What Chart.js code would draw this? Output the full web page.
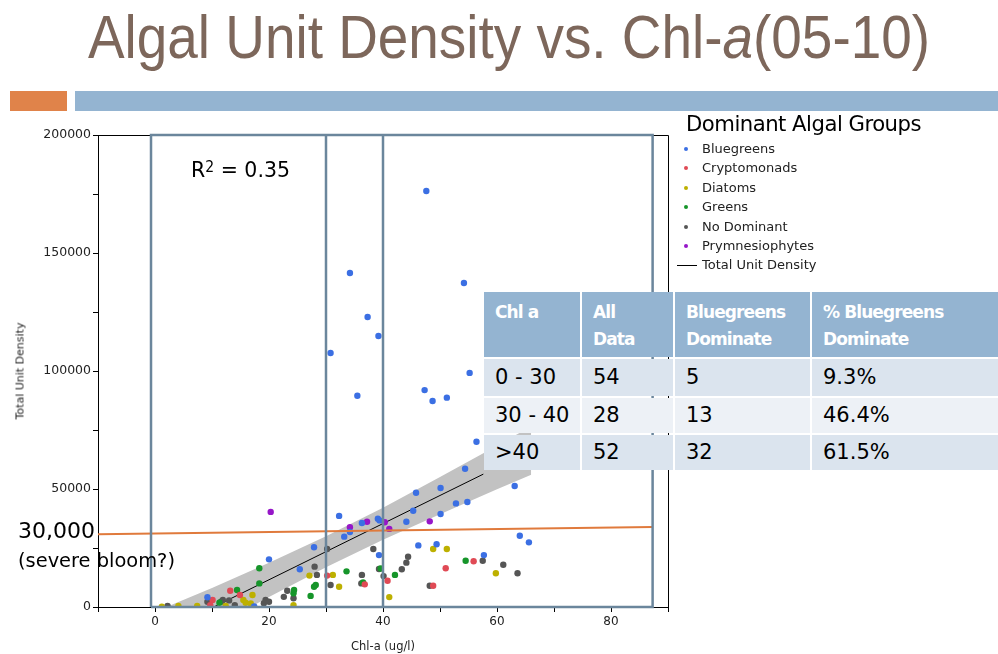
<!DOCTYPE html>
<html><head><meta charset="utf-8">
<script src="https://cdn.jsdelivr.net/npm/chart.js@4"></script>
<style>
html,body{margin:0;padding:0;background:#fff;}
body{width:998px;height:654px;position:relative;overflow:hidden;font-family:"DejaVu Sans",sans-serif;}
#wrap{position:absolute;left:0;top:0;width:998px;height:654px;}
.abs{position:absolute;white-space:nowrap;transform-origin:0 0;display:inline-block;}
#title{left:88px;top:6px;font-family:"Liberation Sans Narrow","Liberation Sans",sans-serif;font-size:62px;line-height:62px;color:#7d675b;}
#title i{font-style:italic;}
.bar{position:absolute;}
#legTitle{left:686px;top:111px;font-size:21px;line-height:26px;color:#000;letter-spacing:-0.5px;}
.legItem{position:absolute;left:702px;font-size:13px;line-height:16px;color:#222;white-space:nowrap;}
.legDot{position:absolute;width:4px;height:4px;border-radius:2px;}
#r2{left:191px;top:156px;font-size:22px;line-height:28px;color:#000;}
#r2 sup{font-size:15px;vertical-align:top;position:relative;top:-3px;}
#t30{left:18px;top:517px;font-size:22px;line-height:28px;color:#000;}
#bloom{left:18px;top:547px;font-size:20px;line-height:26px;color:#000;}
#ytitle{position:absolute;left:20px;top:371px;font-size:11px;color:#222;white-space:nowrap;transform:translate(-50%,-50%) rotate(-90deg);}
.cell{position:absolute;box-sizing:border-box;padding-left:11px;white-space:nowrap;}
.hdr{background:#94b4d1;color:#fff;font-weight:bold;font-size:17px;line-height:27px;padding-top:7px;letter-spacing:-0.9px;}
.dat{color:#000;font-size:21px;}
</style></head>
<body>
<div id="wrap"><canvas id="c" width="998" height="654"></canvas></div>
<div id="title" class="abs">Algal Unit Density vs. Chl-<i>a</i>(05-10)</div>
<div class="bar" style="left:10px;top:91px;width:57px;height:20px;background:#e0834a;"></div>
<div class="bar" style="left:75px;top:91px;width:923px;height:20px;background:#94b4d1;"></div>
<div id="legTitle" class="abs">Dominant Algal Groups</div>
<div id="legend"></div>
<div id="r2" class="abs">R<sup>2</sup> = 0.35</div>
<div id="t30" class="abs">30,000</div>
<div id="bloom" class="abs">(severe bloom?)</div>
<div id="ytitle">Total Unit Density</div>
<div id="table"></div>
<script>
// ---- data ----
const groupNames = ['Bluegreens','Cryptomonads','Diatoms','Greens','No Dominant','Prymnesiophytes'];
const groupColors = ['#3b6fe3','#e04a55','#bdb000','#16952a','#555555','#9616c8'];

const bluegreensChl = [9.2,17.4,20.0,25.4,27.9,30.8,34.2,37.3,39.2,35.5,32.3,33.2,34.2,36.3,39.1,39.4,39.3,47.6,54.2,55.2,47.3,48.7,51.2,56.4,54.4,63.1,45.8,50.1,52.8,54.8,45.3,50.1,44.1,64.0,65.6,46.2,49.4,57.7];
const bluegreensDensity = [4100,200,20200,16000,25300,107600,141500,122900,114800,89500,38600,29800,31800,35600,37400,36700,22000,176300,137300,99200,91900,87300,88700,70000,58600,51300,48400,50400,43900,44500,40800,39400,36100,30200,27400,26100,26600,22000];

const cryptoChl = [9.7,10.1,13.2,14.9,30.2,36.8,40.8,48.8,51.0,55.9];
const cryptoDensity = [800,3000,6900,5100,13300,9600,11100,9000,16400,19400];

const diatomsChl = [1.2,4.1,7.4,12.4,15.5,15.9,16.8,17.1,24.3,27.1,31.2,32.3,41.1,48.8,51.2,59.8];
const diatomsDensity = [100,400,400,400,3000,1800,1500,5100,800,13300,13600,8600,4200,24600,24600,14300];

const greensChl = [11.3,14.4,18.3,18.3,24.3,24.4,27.3,27.9,28.2,33.6,36.5,39.6,42.1,54.5];
const greensDensity = [1800,7200,16400,10000,5800,7200,4700,8600,9300,15100,10400,16300,13600,19600];

const noDomChl = [2.2,9.2,11.6,11.9,13.0,14.0,19.1,19.4,20.0,22.6,23.2,24.3,28.0,28.4,30.2,30.8,36.2,36.3,38.3,39.3,40.1,43.3,44.1,44.4,48.2,57.5,61.1,63.6];
const noDomDensity = [400,2200,2200,3000,2800,800,1600,3000,2200,4300,6900,3700,17100,13600,24600,9300,10000,13600,24600,16100,13100,16000,18800,21300,9000,19600,17900,14300];

const prymChl = [20.3,34.2,37.2,40.3,41.1,48.2];
const prymDensity = [40300,33800,36100,35900,33100,36300];

// regression line and confidence band
const fitChl = [10.3, 57.6];
const fitDensity = [0, 56300];
const bandChl = [0,10,20,30,40,50,60,66];
const bandUpper = [-2000,8000,18800,30000,42100,55100,68300,76600];
const bandLower = [-22600,-8800,4200,16800,28500,39300,49900,56000];

// threshold line (30,000 severe bloom)
const threshChl = [-10, 87.3];
const threshDensity = [30800, 33900];

// box outlines (Chl-a class boundaries)
const boxEdges = [-0.7, 30, 40, 87.3];

// axes
const xMin = -10, xMax = 90, xStep = 10, xLabelEvery = 20;
const yMin = 0, yMax = 200000, yStep = 25000, yLabelEvery = 50000;

// table
const tableHeader = [['Chl a',''],['All','Data'],['Bluegreens','Dominate'],['% Bluegreens','Dominate']];
const tableRanges = ['0 - 30','30 - 40','>40'];
const tableAll = [54,28,52];
const tableBlue = [5,13,32];
const tablePct = ['9.3%','46.4%','61.5%'];

// ---- build ----
const pts = (xs, ys) => xs.map((x,i)=>({x:x, y:ys[i]}));
const groups = [
  [bluegreensChl,bluegreensDensity],[cryptoChl,cryptoDensity],[diatomsChl,diatomsDensity],
  [greensChl,greensDensity],[noDomChl,noDomDensity],[prymChl,prymDensity]
];
const datasets = [];
const boxColor = '#6b869c';
datasets.push({label:'box', data:[{x:boxEdges[0],y:yMin},{x:boxEdges[0],y:yMax},{x:boxEdges[3],y:yMax},{x:boxEdges[3],y:yMin},{x:boxEdges[0],y:yMin}],
  showLine:true, pointRadius:0, borderColor:boxColor, borderWidth:2.5, fill:false, clip:false, order:0});
[boxEdges[1], boxEdges[2]].forEach(e=>{
  datasets.push({label:'div', data:[{x:e,y:yMin},{x:e,y:yMax}], showLine:true, pointRadius:0, borderColor:boxColor, borderWidth:2.5, clip:false, order:0});
});
datasets.push({label:'threshold', data:pts(threshChl, threshDensity), showLine:true, pointRadius:0, borderColor:'#e07a3c', borderWidth:2, clip:false, order:1});
groups.forEach((g,i)=>{
  datasets.push({label:groupNames[i], data:pts(g[0],g[1]), pointRadius:3.2, pointHoverRadius:3.2, pointBorderWidth:0, backgroundColor:groupColors[i], borderColor:groupColors[i], order:2});
});
datasets.push({label:'Total Unit Density', data:pts(fitChl, fitDensity), showLine:true, pointRadius:0, borderColor:'#000', borderWidth:1, order:3});
const upperIdx = datasets.length;
datasets.push({label:'bandU', data:pts(bandChl, bandUpper), showLine:true, pointRadius:0, borderWidth:0, borderColor:'rgba(0,0,0,0)', backgroundColor:'#c2c2c2', fill:upperIdx+1, order:4});
datasets.push({label:'bandL', data:pts(bandChl, bandLower), showLine:true, pointRadius:0, borderWidth:0, borderColor:'rgba(0,0,0,0)', fill:false, order:5});

const framePlugin = {
  id:'frame',
  beforeDatasetsDraw(chart){
    const a = chart.chartArea, c = chart.ctx;
    c.save(); c.strokeStyle='#000'; c.lineWidth=1;
    c.beginPath();
    c.moveTo(Math.round(a.left)+0.5, Math.round(a.top)+0.5);
    c.lineTo(Math.round(a.right)+0.5, Math.round(a.top)+0.5);
    c.lineTo(Math.round(a.right)+0.5, Math.round(a.bottom)+0.5);
    c.stroke(); c.restore();
  }
};

new Chart(document.getElementById('c'), {
  type:'scatter',
  data:{datasets},
  options:{
    responsive:false, animation:false, events:[],
    layout:{padding:{left:0, top:135, right:330, bottom:0}},
    plugins:{legend:{display:false}, tooltip:{enabled:false}},
    scales:{
      x:{type:'linear', min:xMin, max:xMax,
        ticks:{stepSize:xStep, autoSkip:false, maxRotation:0, color:'#222', font:{family:'DejaVu Sans', size:12}, padding:3,
          callback:v=> (v % xLabelEvery === 0) ? String(v) : ''},
        grid:{display:true, drawOnChartArea:false, drawTicks:true, tickLength:5, color:'#000'},
        border:{display:true, color:'#000', width:1},
        title:{display:true, text:'Chl-a (ug/l)', color:'#222', font:{family:'DejaVu Sans', size:11.5}, padding:{top:1,bottom:0}},
        afterFit(s){ s.height = 47; }
      },
      y:{type:'linear', min:yMin, max:yMax,
        ticks:{stepSize:yStep, autoSkip:false, color:'#222', font:{family:'DejaVu Sans', size:12.5}, padding:2,
          callback:v=> (v % yLabelEvery === 0) ? String(v) : ''},
        grid:{display:true, drawOnChartArea:false, drawTicks:true, tickLength:5, color:'#000'},
        border:{display:true, color:'#000', width:1},
        afterFit(s){ s.width = 98; }
      }
    }
  },
  plugins:[framePlugin]
});

// legend
const leg = document.getElementById('legend');
const rowY = [149,168,188,207,227,246,265];
groupNames.forEach((n,i)=>{
  const d = document.createElement('div'); d.className='legDot';
  d.style.left='684px'; d.style.top=(rowY[i]-2)+'px'; d.style.background=groupColors[i];
  leg.appendChild(d);
  const t = document.createElement('div'); t.className='legItem'; t.textContent=n;
  t.style.top=(rowY[i]-8)+'px'; leg.appendChild(t);
});
const ln = document.createElement('div'); ln.style.cssText='position:absolute;left:677px;width:20px;height:1px;background:#000;top:265px;';
leg.appendChild(ln);
const lt = document.createElement('div'); lt.className='legItem'; lt.textContent='Total Unit Density'; lt.style.top=(265-8)+'px'; leg.appendChild(lt);

// table
const tb = document.getElementById('table');
const colL = [484,582,675,812], colW = [96,91,135,186];
const rowT = [292,359,398,435], rowH = [65,37,35,35];
const rowBg = ['#dbe4ee','#edf1f6','#dbe4ee'];
tableHeader.forEach((h,c)=>{
  const d = document.createElement('div'); d.className='cell hdr';
  d.style.cssText += `left:${colL[c]}px;top:${rowT[0]}px;width:${colW[c]}px;height:${rowH[0]}px;`;
  d.innerHTML = h[0] + (h[1] ? '<br>'+h[1] : '');
  tb.appendChild(d);
});
tableRanges.forEach((r,i)=>{
  const vals = [r, tableAll[i], tableBlue[i], tablePct[i]];
  vals.forEach((v,c)=>{
    const d = document.createElement('div'); d.className='cell dat';
    d.style.cssText += `left:${colL[c]}px;top:${rowT[i+1]}px;width:${colW[c]}px;height:${rowH[i+1]}px;line-height:${rowH[i+1]}px;background:${rowBg[i]};`;
    d.textContent = String(v);
    tb.appendChild(d);
  });
});

// fit text widths
function fit(id, w){ const el=document.getElementById(id); const cw=el.getBoundingClientRect().width; el.style.transform=`scaleX(${w/cw})`; }
fit('title', 842); fit('legTitle', 235); fit('r2', 99); fit('t30', 77); fit('bloom', 157);
</script>
</body></html>
